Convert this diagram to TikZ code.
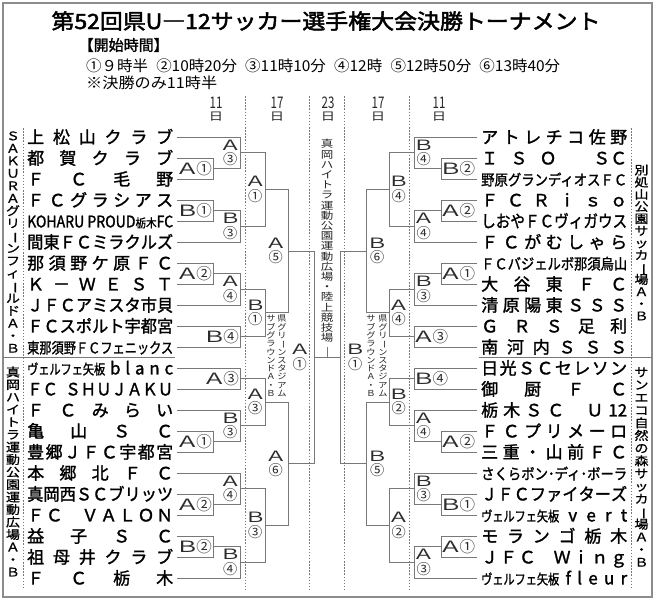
\documentclass[tikz,border=0pt]{standalone}
\usepackage{fontspec}
\usepackage{graphicx}
\usetikzlibrary{calc}
\setmainfont{Noto Sans CJK JP}
\newfontfamily\jpb[FakeBold=1.5]{Noto Sans CJK JP}
\newfontfamily\jpbb[FakeBold=2.2]{Noto Sans CJK JP}
\newfontfamily\jpm[FakeBold=0.8]{Noto Sans CJK JP}
\definecolor{linec}{RGB}{120,120,120}
\definecolor{lblc}{RGB}{45,45,45}
\definecolor{framec}{RGB}{140,140,140}
\newlength\namew \setlength\namew{146pt}
\newsavebox\tnbox
\def\spr#1{\sprA#1\relax}
\def\sprA#1{#1\sprB}
\def\sprB#1{\ifx#1\relax\else\hfill#1\expandafter\sprB\fi}
\newcommand\fitw[1]{\sbox\tnbox{#1}\ifdim\wd\tnbox>\namew\relax\resizebox{\namew}{\height}{\usebox\tnbox}\else\hbox to\namew{#1}\fi}
\newcommand\TN[1]{\fitw{\spr{#1}}}
\newcommand\FX[1]{\resizebox{\namew}{\height}{#1}}
\newcommand\VF{\resizebox{78pt}{\height}{\fontsize{14}{14}\selectfont ヴェルフェ矢板}}
\newcommand\tmfont{\jpb\fontsize{17}{17}\selectfont}
\newcommand\lblfont{\fontsize{15.5}{13.5}\selectfont}
\newcommand\LA{\kern-3pt\scalebox{1.55}[1]{Ａ}\kern-3pt}
\newcommand\LB{\kern-3pt\scalebox{1.55}[1]{Ｂ}\kern-3pt}
\newcommand\vbar{\rotatebox[origin=c]{-90}{ー}}
\def\vsA#1{\ifx#1\relax\else\hbox to\vcw{\hss#1\hss}\expandafter\vsA\fi}
\newcommand\vtxt[3]{\vbox{\baselineskip=#1\lineskiplimit=-100pt\lineskip=0pt\def\vcw{#2}\vsA#3\relax}}
\newcommand\stk[2]{{\fontsize{14.2}{14.2}\selectfont\vtxt{14.4pt}{18pt}{#1#2}}}
\newcommand\tL[3]{\node[team] (L#1) at (27,#2+6.4) {#3}; \coordinate (l#1) at (177,#2);}
\newcommand\tR[3]{\node[team] (R#1) at (481,#2+6.4) {#3}; \coordinate (r#1) at (477,#2);}
\newcommand\brk[4]{\draw[br] (#2) -- (#2 -| #4) -- (#3 -| #4) -- (#3); \coordinate (#1) at ($(#2 -| #4)!0.5!(#3 -| #4)$);}
\newcommand\lbL[3]{\node[lbl,anchor=east] (t#1) at ($(#1)+(-#2,0)$) {#3};}
\newcommand\lbR[3]{\node[lbl,anchor=west] (t#1) at ($(#1)+(#2,0)$) {#3};}
\begin{document}
\begin{tikzpicture}[x=1pt,y=-1pt,
  br/.style={draw=linec,line width=0.9pt},
  dotl/.style={draw=linec,line width=0.8pt,dash pattern=on 1.5pt off 1.6pt},
  team/.style={inner sep=0pt,anchor=base west,font=\tmfont,text=black},
  lbl/.style={inner sep=0pt,text=lblc,font=\lblfont},
  vt/.style={inner sep=0pt,font=\jpm\fontsize{14}{14}\selectfont,text=black},
  ct/.style={inner sep=0pt,font=\fontsize{12.5}{12.5}\selectfont,text=black!85},
  st/.style={inner sep=0pt,font=\fontsize{9.2}{9.2}\selectfont,text=black!85},
  dn/.style={inner sep=0pt,font=\fontsize{16}{16}\selectfont,text=black!85},
  dd/.style={inner sep=0pt,font=\fontsize{13}{13}\selectfont,text=black!85}]
\useasboundingbox (0,0) rectangle (657,600);
\fill[white] (0,0) rectangle (657,600);
\draw[framec,line width=1.2pt] (3,3) rectangle (652,597);
% header
\node[inner sep=0pt] (title) at (326,21) {\jpbb\fontsize{21}{21}\selectfont\resizebox{549pt}{\height}{第52回県U―12サッカー選手権大会決勝トーナメント}};
\node[inner sep=0pt,anchor=west] (hdr) at (86,45) {\jpb\fontsize{15}{15}\selectfont\makebox[7.5pt][r]{【}開始時間\makebox[7.5pt][l]{】}};
\node[inner sep=0pt,anchor=west] (sched) at (86,66) {\fontsize{15}{15}\selectfont\resizebox{474pt}{\height}{①９時半\hspace{8pt}②10時20分\hspace{8pt}③11時10分\hspace{8pt}④12時\hspace{8pt}⑤12時50分\hspace{8pt}⑥13時40分}};
\node[inner sep=0pt,anchor=west] (note) at (86,83) {\fontsize{15}{15}\selectfont\resizebox{131pt}{\height}{※決勝のみ11時半}};
% dates
\node[dn] (d1) at (216,103) {\scalebox{0.72}[1]{11}};
\node[dd] (d1b) at (216,117) {\scalebox{1.1}[0.85]{日}};
\node[dn] (d2) at (277,103) {\scalebox{0.72}[1]{17}};
\node[dd] (d2b) at (277,117) {\scalebox{1.1}[0.85]{日}};
\node[dn] (d3) at (328,103) {\scalebox{0.72}[1]{23}};
\node[dd] (d3b) at (328,117) {\scalebox{1.1}[0.85]{日}};
\node[dn] (d4) at (378,103) {\scalebox{0.72}[1]{17}};
\node[dd] (d4b) at (378,117) {\scalebox{1.1}[0.85]{日}};
\node[dn] (d5) at (439,103) {\scalebox{0.72}[1]{11}};
\node[dd] (d5b) at (439,117) {\scalebox{1.1}[0.85]{日}};
% dotted guides
\foreach \xx in {245,309,344,409} \draw[dotl] (\xx,96) -- (\xx,589);
\foreach \xx in {23,631} \draw[dotl] (\xx,128) -- (\xx,589);
% separators
\draw[br] (3,357.5) -- (175,357.5);
\draw[br] (479,357.5) -- (652,357.5);
% venue texts
\node[vt] (vL1) at (13,242) {\scalebox{1}[0.85]{\vtxt{14.7pt}{15pt}{ＳＡＫＵＲＡグリ\vbar ンフィ\vbar ルドＡ・Ｂ}}};
\node[vt] (vL2) at (13,471.5) {\scalebox{1}[0.85]{\vtxt{14.7pt}{15pt}{真岡ハイトラ運動公園運動広場Ａ・Ｂ}}};
\node[vt] (vR1) at (641.5,242.5) {\scalebox{1}[0.85]{\vtxt{14.3pt}{15pt}{別処山公園サッカ\vbar 場Ａ・Ｂ}}};
\node[vt] (vR2) at (641.5,467) {\scalebox{1}[0.85]{\vtxt{14.9pt}{15pt}{サンエコ自然の森サッカ\vbar 場Ａ・Ｂ}}};
\node[ct] (vC) at (327,241) {\scalebox{1}[0.8]{\vtxt{12.75pt}{13pt}{真岡ハイトラ運動公園運動広場・陸上競技場}}};
\node[st] (vS1) at (282,356) {\scalebox{1}[0.9]{\vtxt{9.2pt}{10pt}{県グリ\vbar ンスタジアム}}};
\node[st] (vS2) at (271,356) {\scalebox{1}[0.9]{\vtxt{9.2pt}{10pt}{サブグラウンドＡ・Ｂ}}};
\node[st] (vS3) at (383,356) {\scalebox{1}[0.9]{\vtxt{9.2pt}{10pt}{県グリ\vbar ンスタジアム}}};
\node[st] (vS4) at (371,356) {\scalebox{1}[0.9]{\vtxt{9.2pt}{10pt}{サブグラウンドＡ・Ｂ}}};
% teams left
\tL{0}{137}{\TN{上松山クラブ}}
\tL{1}{158}{\TN{都賀クラブ}}
\tL{2}{179}{\TN{ＦＣ毛野}}
\tL{3}{200}{\TN{ＦＣグラシアス}}
\tL{4}{221}{\FX{{\fontsize{16}{16}\selectfont KOHARU PROUD}{\fontsize{12}{12}\selectfont 栃木}{\fontsize{16}{16}\selectfont FC}}}
\tL{5}{242}{\TN{間東ＦＣミラクルズ}}
\tL{6}{263}{\TN{那須野ケ原ＦＣ}}
\tL{7}{284}{\TN{Ｋ－ＷＥＳＴ}}
\tL{8}{305}{\TN{ＪＦＣアミスタ市貝}}
\tL{9}{326}{\TN{ＦＣスポルト宇都宮}}
\tL{10}{347}{\FX{\fontsize{15}{15}\selectfont 東那須野ＦＣフェニックス}}
\tL{11}{368}{\hbox to\namew{\VF\hfill b\hfill l\hfill a\hfill n\hfill c}}
\tL{12}{389}{\FX{ＦＣ\hspace{8pt}ＳＨＵＪＡＫＵ}}
\tL{13}{410}{\TN{ＦＣみらい}}
\tL{14}{431}{\TN{亀山ＳＣ}}
\tL{15}{452}{\TN{豊郷ＪＦＣ宇都宮}}
\tL{16}{473}{\TN{本郷北ＦＣ}}
\tL{17}{494}{\TN{真岡西ＳＣブリッツ}}
\tL{18}{515}{\hbox to\namew{Ｆ\hfill Ｃ\hspace{17pt}\hfill Ｖ\hfill Ａ\hfill Ｌ\hfill Ｏ\hfill Ｎ}}
\tL{19}{536}{\TN{益子ＳＣ}}
\tL{20}{557}{\TN{祖母井クラブ}}
\tL{21}{578}{\TN{ＦＣ栃木}}
% teams right
\tR{0}{137}{\TN{アトレチコ佐野}}
\tR{1}{158}{\hbox to\namew{Ｉ\hfill Ｓ\hfill Ｏ\hfill\hfill\hfill ＳＣ}}
\tR{2}{179}{\FX{\fontsize{15}{15}\selectfont 野原グランディオスＦＣ}}
\tR{3}{200}{\TN{ＦＣＲｉｓｏ}}
\tR{4}{221}{\TN{しおやＦＣヴィガウス}}
\tR{5}{242}{\TN{ＦＣがむしゃら}}
\tR{6}{263}{\FX{\fontsize{15}{15}\selectfont ＦＣバジェルボ那須烏山}}
\tR{7}{284}{\TN{大谷東ＦＣ}}
\tR{8}{305}{\TN{清原陽東ＳＳＳ}}
\tR{9}{326}{\TN{ＧＲＳ足利}}
\tR{10}{347}{\TN{南河内ＳＳＳ}}
\tR{11}{368}{\TN{日光ＳＣセレソン}}
\tR{12}{389}{\TN{御厨ＦＣ}}
\tR{13}{410}{\hbox to\namew{栃\hfill 木\hfill Ｓ\hfill Ｃ\hfill\hspace{12pt}\hfill Ｕ\hfill 12}}
\tR{14}{431}{\TN{ＦＣプリメーロ}}
\tR{15}{452}{\TN{三重・山前ＦＣ}}
\tR{16}{473}{\FX{\fontsize{15}{15}\selectfont さくらボン･ディ･ボーラ}}
\tR{17}{494}{\TN{ＪＦＣファイターズ}}
\tR{18}{515}{\hbox to\namew{\VF\hfill v\hfill e\hfill r\hfill t}}
\tR{19}{536}{\TN{モランゴ栃木}}
\tR{20}{557}{\hbox to\namew{Ｊ\hfill Ｆ\hfill Ｃ\hfill\hspace{14pt}\hfill Ｗ\hfill ｉ\hfill ｎ\hfill ｇ}}
\tR{21}{578}{\hbox to\namew{\VF\hfill f\hfill l\hfill e\hfill u\hfill r}}
% columns
\coordinate (k1) at (213,0); \coordinate (k2) at (240,0); \coordinate (k3) at (265,0);
\coordinate (k4) at (288,0); \coordinate (k5) at (314,0);
\coordinate (m1) at (441,0); \coordinate (m2) at (414,0); \coordinate (m3) at (389,0);
\coordinate (m4) at (366,0); \coordinate (m5) at (340,0);
% left top
\brk{LA1a}{l1}{l2}{k1} \lbL{LA1a}{1}{\LA①}
\brk{LB1a}{l3}{l4}{k1} \lbL{LB1a}{1}{\LB①}
\brk{LA2a}{l6}{l7}{k1} \lbL{LA2a}{1}{\LA②}
\brk{LA3b}{l0}{LA1a}{k2} \lbL{LA3b}{0.5}{\stk\LA③}
\brk{LB3b}{LB1a}{l5}{k2} \lbL{LB3b}{0.5}{\stk\LB③}
\brk{LA4b}{LA2a}{l8}{k2} \lbL{LA4b}{0.5}{\stk\LA④}
\brk{LB4b}{l9}{l10}{k2} \lbL{LB4b}{1}{\LB④}
\brk{LA1c}{LA3b}{LB3b}{k3} \lbL{LA1c}{0.5}{\stk\LA①}
\brk{LB1c}{LA4b}{LB4b}{k3} \lbL{LB1c}{0.5}{\stk\LB①}
\brk{LA5d}{LA1c}{LB1c}{k4} \lbL{LA5d}{3}{\stk\LA⑤}
% left bottom
\brk{LA3x}{l11}{l12}{k2} \lbL{LA3x}{1}{\LA③}
\brk{LA1y}{l14}{l15}{k1} \lbL{LA1y}{1}{\LA①}
\brk{LB3x}{l13}{LA1y}{k2} \lbL{LB3x}{0.5}{\stk\LB③}
\brk{LA2y}{l17}{l18}{k1} \lbL{LA2y}{1}{\LA②}
\brk{LA4x}{l16}{LA2y}{k2} \lbL{LA4x}{0.5}{\stk\LA④}
\brk{LB2y}{l19}{l20}{k1} \lbL{LB2y}{1}{\LB②}
\brk{LB4x}{LB2y}{l21}{k2} \lbL{LB4x}{0.5}{\stk\LB④}
\brk{LA3z}{LA3x}{LB3x}{k3} \lbL{LA3z}{0.5}{\stk\LA③}
\brk{LB3z}{LA4x}{LB4x}{k3} \lbL{LB3z}{0.5}{\stk\LB③}
\brk{LA6d}{LA3z}{LB3z}{k4} \lbL{LA6d}{3}{\stk\LA⑥}
\brk{LSF}{LA5d}{LA6d}{k5} \lbL{LSF}{5}{\stk\LA①}
% right top
\brk{RB2a}{r1}{r2}{m1} \lbR{RB2a}{0.5}{\LB②}
\brk{RA2a}{r3}{r4}{m1} \lbR{RA2a}{0.5}{\LA②}
\brk{RA1a}{r6}{r7}{m1} \lbR{RA1a}{0.5}{\LA①}
\brk{RB4b}{r0}{RB2a}{m2} \lbR{RB4b}{0.5}{\stk\LB④}
\brk{RA4b}{RA2a}{r5}{m2} \lbR{RA4b}{0.5}{\stk\LA④}
\brk{RB3b}{RA1a}{r8}{m2} \lbR{RB3b}{0.5}{\stk\LB③}
\brk{RA3b}{r9}{r10}{m2} \lbR{RA3b}{0.5}{\LA③}
\brk{RB4c}{RB4b}{RA4b}{m3} \lbR{RB4c}{0.5}{\stk\LB④}
\brk{RA4c}{RB3b}{RA3b}{m3} \lbR{RA4c}{0.5}{\stk\LA④}
\brk{RB6d}{RB4c}{RA4c}{m4} \lbR{RB6d}{2}{\stk\LB⑥}
% right bottom
\brk{RB4x}{r11}{r12}{m2} \lbR{RB4x}{0.5}{\LB④}
\brk{RA2y}{r14}{r15}{m1} \lbR{RA2y}{0.5}{\LA②}
\brk{RA4x}{r13}{RA2y}{m2} \lbR{RA4x}{0.5}{\stk\LA④}
\brk{RB1y}{r17}{r18}{m1} \lbR{RB1y}{0.5}{\LB①}
\brk{RB3x}{r16}{RB1y}{m2} \lbR{RB3x}{0.5}{\stk\LB③}
\brk{RA1y}{r19}{r20}{m1} \lbR{RA1y}{0.5}{\LA①}
\brk{RA3x}{RA1y}{r21}{m2} \lbR{RA3x}{0.5}{\stk\LA③}
\brk{RB2z}{RB4x}{RA4x}{m3} \lbR{RB2z}{0.5}{\stk\LB②}
\brk{RA2z}{RB3x}{RA3x}{m3} \lbR{RA2z}{0.5}{\stk\LA②}
\brk{RB5d}{RB2z}{RA2z}{m4} \lbR{RB5d}{2}{\stk\LB⑤}
\brk{RSF}{RB6d}{RB5d}{m5} \lbR{RSF}{6}{\stk\LB①}
% final
\draw[br] (LSF) -- (RSF);
\coordinate (fin) at ($(LSF)!0.5!(RSF)$);
\coordinate (fintop) at ($(fin)+(0,-11)$);
\draw[br] (fin) -- (fintop);
\end{tikzpicture}
\end{document}
